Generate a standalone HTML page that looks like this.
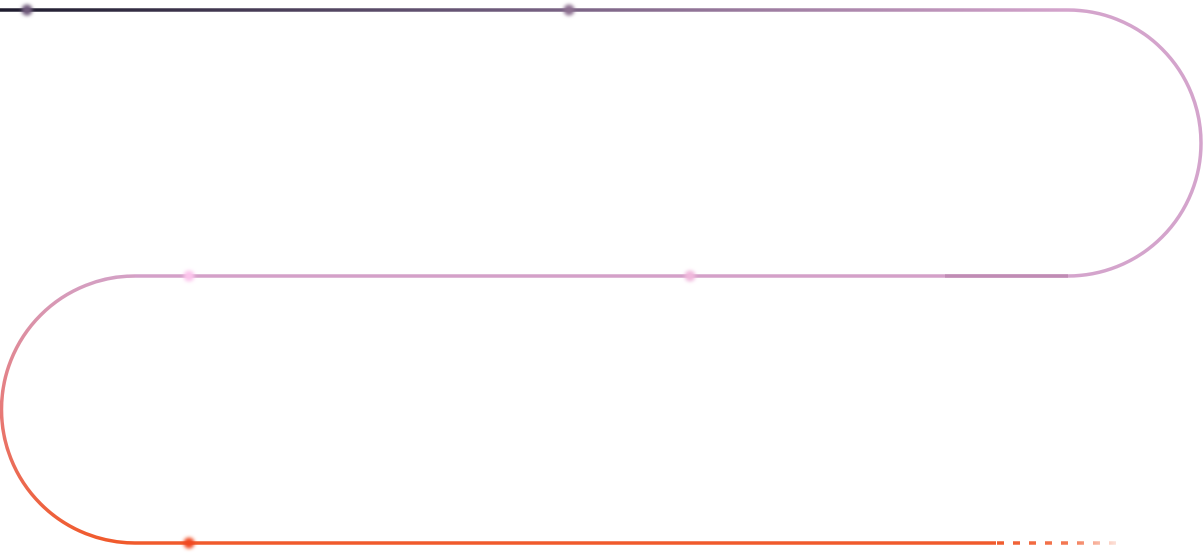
<!DOCTYPE html>
<html><head><meta charset="utf-8"><style>html,body{margin:0;padding:0;background:#fff;width:1204px;height:555px;overflow:hidden}</style></head>
<body>
<svg width="1204" height="555" viewBox="0 0 1204 555" xmlns="http://www.w3.org/2000/svg">
<defs>
<linearGradient id="g1" x1="0" y1="0" x2="1068" y2="0" gradientUnits="userSpaceOnUse">
<stop offset="0" stop-color="#1e1c2e"/><stop offset="0.45" stop-color="#6a5878"/><stop offset="1" stop-color="#d4a4cc"/></linearGradient>
<linearGradient id="g2" x1="0" y1="276" x2="0" y2="543" gradientUnits="userSpaceOnUse">
<stop offset="0" stop-color="#d4a0c4"/><stop offset="0.5" stop-color="#e77a78"/><stop offset="1" stop-color="#f05a2c"/></linearGradient>
<linearGradient id="g3" x1="995" y1="0" x2="1125" y2="0" gradientUnits="userSpaceOnUse">
<stop offset="0" stop-color="#f05a2c"/><stop offset="0.6" stop-color="#f05a2c" stop-opacity="0.8"/><stop offset="1" stop-color="#f05a2c" stop-opacity="0.05"/></linearGradient>
<filter id="b" x="-1" y="-1" width="3" height="3"><feGaussianBlur stdDeviation="1.8"/></filter>
</defs>
<g fill="none" stroke-width="3.5">
<path d="M0 10 H1068" stroke="url(#g1)"/>
<path d="M1068 10 A133 133 0 0 1 1068 276" stroke="#d4a4cc"/>
<path d="M1068 276 H135" stroke="#d4a0c8"/>
<path d="M945 276 H1068" stroke="#c08cb4"/>
<path d="M135 276 A133 133 0 0 0 135 543" stroke="url(#g2)"/>
<path d="M135 543 H996" stroke="#f05a2c"/>
<path d="M997 543 H1125" stroke="url(#g3)" stroke-dasharray="7 9"/>
</g>
<g filter="url(#b)">
<circle cx="27" cy="10" r="5.5" fill="#6e5a7a"/>
<circle cx="569" cy="10" r="5.5" fill="#8c7090"/>
<circle cx="189" cy="276" r="5.5" fill="#fcc4ec"/>
<circle cx="690" cy="276" r="5.5" fill="#f0b8dc"/>
<circle cx="189" cy="543" r="5.5" fill="#f04a20"/>
</g>
</svg>
</body></html>
